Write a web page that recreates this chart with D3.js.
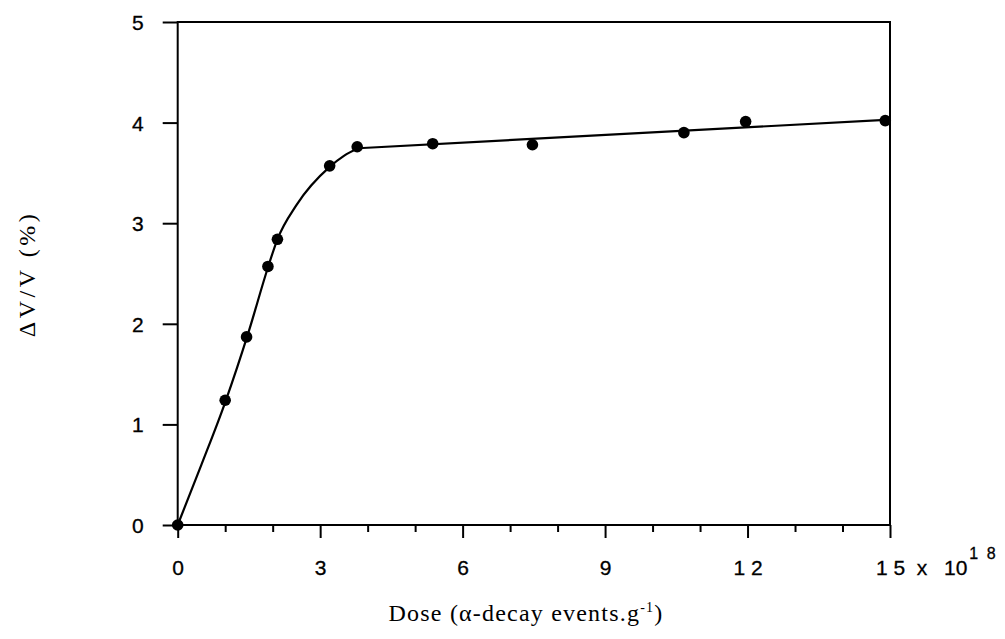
<!DOCTYPE html>
<html>
<head>
<meta charset="UTF-8">
<title>Dose vs swelling</title>
<style>
body { margin: 0; background: #fff; }
svg text { fill: #000; }
.tick-label { font-family: "Liberation Sans", Arial, sans-serif; font-size: 21px; stroke: #000; stroke-width: 0.3px; }
.title { font-family: "Liberation Serif", "Times New Roman", serif; font-size: 24px; }
</style>
<script src="https://cdn.jsdelivr.net/npm/d3@7/dist/d3.min.js"></script>
</head>
<body>
<div id="chart"></div>
<script>
// measured points (dose in 1e18 alpha-decay events/g, swelling %)
var doseX = [0, 1.0, 1.45, 1.9, 2.1, 3.2, 3.78, 5.37, 7.47, 10.66, 11.96, 14.9];
var swellY = [0, 1.24, 1.87, 2.57, 2.84, 3.57, 3.76, 3.79, 3.78, 3.90, 4.01, 4.02];

// hand-drawn fit: curved rise then a straight line
var fitCurveX = [0, 0.5, 1.0, 1.5, 1.9, 2.1, 2.5, 3.2, 3.5, 3.8];
var fitCurveY = [0, 0.6, 1.22, 1.93, 2.56, 2.84, 3.18, 3.56, 3.67, 3.745];
var fitLineX = [3.8, 15];
var fitLineY = [3.745, 4.03];

var xTicks = [0, 3, 6, 9, 12, 15];
var xTickLabels = ["0", "3", "6", "9", "1 2", "1 5"];
var xMinor = [1, 2, 4, 5, 7, 8, 10, 11, 13, 14];
var yTicks = [0, 1, 2, 3, 4, 5];

(function() {
  var width = 1005, height = 639;
  var m = {left: 177.7, right: 890, top: 22, bottom: 525};

  var svg = d3.select("#chart").append("svg")
      .attr("width", width)
      .attr("height", height);

  var x = d3.scaleLinear().domain([0, 15]).range([m.left, m.right]);
  var y = d3.scaleLinear().domain([0, 5]).range([m.bottom, m.top]);

  // frame
  svg.append("rect")
      .attr("x", m.left).attr("y", m.top)
      .attr("width", m.right - m.left).attr("height", m.bottom - m.top)
      .attr("fill", "none").attr("stroke", "#000").attr("stroke-width", 2);

  // y axis
  var yAxis = d3.axisLeft(y).tickValues(yTicks).tickSize(15).tickPadding(19)
      .tickFormat(d3.format("d"));
  var gy = svg.append("g").attr("transform", "translate(" + m.left + ",0)").call(yAxis);
  gy.select(".domain").remove();
  gy.selectAll("line").attr("stroke-width", 2);
  gy.selectAll("text").attr("class", "tick-label").attr("dy", "0.36em");

  // x axis major
  var xAxis = d3.axisBottom(x).tickValues(xTicks).tickSize(13).tickPadding(22)
      .tickFormat(function(d, i) { return xTickLabels[i]; });
  var gx = svg.append("g").attr("transform", "translate(0," + m.bottom + ")").call(xAxis);
  gx.select(".domain").remove();
  gx.selectAll("line").attr("stroke-width", 2);
  gx.selectAll("text").attr("class", "tick-label").attr("dy", "0.71em");

  // x axis minor
  var xAxisMinor = d3.axisBottom(x).tickValues(xMinor).tickSize(7).tickFormat("");
  var gxm = svg.append("g").attr("transform", "translate(0," + m.bottom + ")").call(xAxisMinor);
  gxm.select(".domain").remove();
  gxm.selectAll("line").attr("stroke-width", 2);

  // multiplier next to last tick label
  svg.append("text")
      .attr("class", "tick-label")
      .attr("x", x(15) + 32).attr("y", 575)
      .attr("text-anchor", "middle")
      .text("x");
  var mult = svg.append("text")
      .attr("class", "tick-label")
      .attr("x", x(15) + 54)
      .attr("y", 575);
  mult.append("tspan").text("10");
  mult.append("tspan").attr("dy", -16).attr("dx", 2).attr("font-size", 16)
      .attr("letter-spacing", 2).text("1 8");

  // fit lines
  var lineGen = d3.line()
      .x(function(d) { return x(d[0]); })
      .y(function(d) { return y(d[1]); });

  svg.append("path")
      .datum(d3.zip(fitCurveX, fitCurveY))
      .attr("d", lineGen.curve(d3.curveMonotoneX))
      .attr("fill", "none").attr("stroke", "#000").attr("stroke-width", 2.2);

  svg.append("path")
      .datum(d3.zip(fitLineX, fitLineY))
      .attr("d", lineGen.curve(d3.curveLinear))
      .attr("fill", "none").attr("stroke", "#000").attr("stroke-width", 2.2);

  // points
  svg.append("g").selectAll("circle")
      .data(d3.zip(doseX, swellY))
      .enter().append("circle")
      .attr("cx", function(d) { return x(d[0]); })
      .attr("cy", function(d) { return y(d[1]); })
      .attr("r", 5.8)
      .attr("fill", "#000");

  // axis titles
  var xt = svg.append("text")
      .attr("class", "title")
      .attr("x", 526).attr("y", 621)
      .attr("text-anchor", "middle")
      .attr("letter-spacing", 1.2);
  xt.append("tspan").text("Dose (\u03b1-decay events.g");
  xt.append("tspan").attr("dy", -9).attr("font-size", 14).text("-1");
  xt.append("tspan").attr("dy", 9).text(")");

  svg.append("text")
      .attr("class", "title")
      .attr("font-size", 25)
      .attr("letter-spacing", 3.5)
      .attr("transform", "translate(35,274) rotate(-90)")
      .attr("text-anchor", "middle")
      .text("\u0394V/V (%)");
})();
</script>
</body>
</html>
